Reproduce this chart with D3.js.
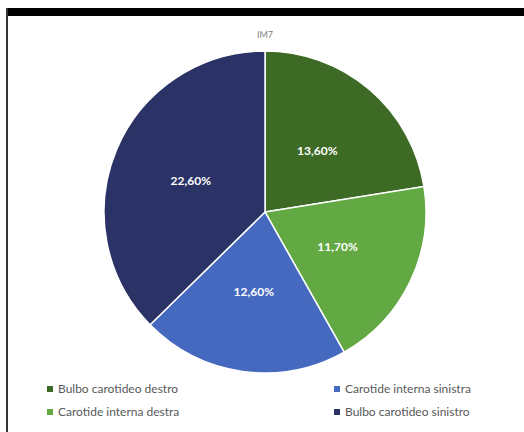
<!DOCTYPE html>
<html>
<head>
<meta charset="utf-8">
<script src="https://cdn.jsdelivr.net/npm/d3@7"></script>
<style>
  body { margin: 0; background: #fff; }
  svg { display: block; }
</style>
</head>
<body>
<svg id="svg1" width="524" height="432"></svg>
<script>
var categories = ['Bulbo carotideo destro', 'Carotide interna destra', 'Carotide interna sinistra', 'Bulbo carotideo sinistro'];
var values = [13.6, 11.7, 12.6, 22.6];
var labels = ['13,60%', '11,70%', '12,60%', '22,60%'];
var colors = ['#3d6a25', '#62a843', '#4669c0', '#2b3266'];
var title = 'IM7';

var svg = d3.select('#svg1');

// frame: thick black bar on top, thin grey line on the left
svg.append('rect').attr('x', 6).attr('y', 8).attr('width', 518).attr('height', 8).attr('fill', '#000');
svg.append('rect').attr('x', 6).attr('y', 8).attr('width', 2).attr('height', 424).attr('fill', '#333');

var cx = 265, cy = 212, r = 161;

svg.append('text')
    .attr('x', cx).attr('y', 38)
    .attr('text-anchor', 'middle')
    .attr('font-family', 'Lato, sans-serif')
    .attr('font-size', 9)
    .attr('fill', '#7f7f7f')
    .text(title);

var pie = d3.pie().sort(null).value(function(d){ return d; });
var arc = d3.arc().innerRadius(0).outerRadius(r);
var labelArc = d3.arc().innerRadius(r * 0.5).outerRadius(r * 0.5);

var g = svg.append('g').attr('transform', 'translate(' + cx + ',' + cy + ')');
var arcs = pie(values);

g.selectAll('path')
    .data(arcs)
    .enter()
    .append('path')
    .attr('d', arc)
    .attr('fill', function(d, i){ return colors[i]; })
    .attr('stroke', '#fff')
    .attr('stroke-width', 1.5);

g.selectAll('text')
    .data(arcs)
    .enter()
    .append('text')
    .attr('transform', function(d){ return 'translate(' + labelArc.centroid(d) + ')'; })
    .attr('dy', '0.35em')
    .attr('text-anchor', 'middle')
    .attr('font-family', 'Lato, sans-serif')
    .attr('font-weight', 'bold')
    .attr('font-size', 12)
    .attr('fill', '#fff')
    .text(function(d, i){ return labels[i]; });

// legend, two columns
var legendPos = [[47, 389], [47, 412], [334, 389], [334, 412]];
var legend = svg.selectAll('.legend')
    .data(categories)
    .enter()
    .append('g')
    .attr('class', 'legend')
    .attr('transform', function(d, i){ return 'translate(' + legendPos[i][0] + ',' + legendPos[i][1] + ')'; });

legend.append('rect')
    .attr('x', 0).attr('y', -3)
    .attr('width', 6).attr('height', 6)
    .attr('fill', function(d, i){ return colors[i]; });

legend.append('text')
    .attr('x', 11).attr('y', 0)
    .attr('dy', '0.35em')
    .attr('font-family', 'Lato, sans-serif')
    .attr('font-size', 12)
    .attr('fill', '#595959')
    .text(function(d){ return d; });
</script>
</body>
</html>
